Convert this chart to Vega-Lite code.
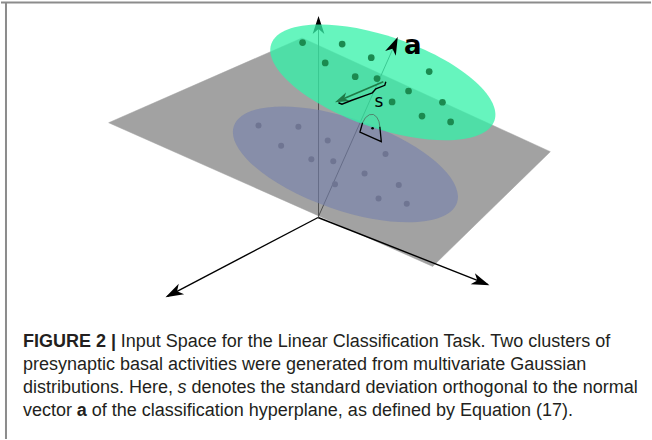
{
  "$schema": "https://vega.github.io/schema/vega-lite/v6.json",
  "width": 652,
  "height": 440,
  "padding": 0,
  "autosize": {"type": "fit", "contains": "padding"},
  "background": "white",
  "config": {"view": {"stroke": null}},
  "datasets": {
    "border": [
      {"x": 0, "y": 2.5, "x2": 652, "y2": 2.5},
      {"x": 5, "y": 2, "x2": 5, "y2": 440}
    ],
    "plane": [
      {"i": 0, "x": 108, "y": 123},
      {"i": 1, "x": 302, "y": 38},
      {"i": 2, "x": 551, "y": 152},
      {"i": 3, "x": 433, "y": 267},
      {"i": 4, "x": 108, "y": 123}
    ],
    "axes": [
      {"x": 318, "y": 218, "x2": 167, "y2": 297},
      {"x": 318, "y": 218, "x2": 488, "y2": 285}
    ],
    "thin": [
      {"x": 318.5, "y": 218, "x2": 318.5, "y2": 20},
      {"x": 318, "y": 218, "x2": 397, "y2": 40}
    ],
    "headUp": [{"x": 318.5, "y": 16, "dir": 0}],
    "heads": [
      {"x": 165, "y": 298, "dir": 242.4},
      {"x": 490, "y": 286, "dir": 111.6},
      {"x": 398, "y": 37, "dir": 24}
    ],
    "headS": [{"x": 335, "y": 102.5, "dir": 246.7}],
    "blueEllipse": [{"x": 345.5, "y": 164.7}],
    "greenEllipse": [{"x": 383, "y": 82.5}],
    "blueDots": [
      {"x": 258.3, "y": 125.7}, {"x": 298.3, "y": 127}, {"x": 281, "y": 146},
      {"x": 327.7, "y": 140.7}, {"x": 311.3, "y": 159.7}, {"x": 333.3, "y": 161.7},
      {"x": 385.7, "y": 154.3}, {"x": 364.7, "y": 174}, {"x": 335, "y": 184.7},
      {"x": 399, "y": 185.3}, {"x": 378.7, "y": 199}, {"x": 407, "y": 204.3}
    ],
    "greenDots": [
      {"x": 302.5, "y": 42.7}, {"x": 342.2, "y": 44.2}, {"x": 371.4, "y": 57.8},
      {"x": 325.2, "y": 63.1}, {"x": 429.5, "y": 71.7}, {"x": 355.3, "y": 76.8},
      {"x": 377.2, "y": 78.7}, {"x": 408.8, "y": 91.2}, {"x": 392.3, "y": 102.2},
      {"x": 442.8, "y": 102.5}, {"x": 422.3, "y": 116.3}, {"x": 451, "y": 122.2}
    ],
    "sLine": [{"x": 383.5, "y": 82, "x2": 340, "y2": 100.5}],
    "brace": [
      {"i": 0, "x": 386, "y": 82}, {"i": 1, "x": 385, "y": 85.5},
      {"i": 2, "x": 376, "y": 89}, {"i": 3, "x": 372.5, "y": 93},
      {"i": 4, "x": 367, "y": 95}, {"i": 5, "x": 352, "y": 100.5},
      {"i": 6, "x": 342, "y": 104.5}, {"i": 7, "x": 338.5, "y": 103}
    ],
    "angleBox": [
      {"i": 0, "x": 380, "y": 127}, {"i": 1, "x": 381.5, "y": 142},
      {"i": 2, "x": 360, "y": 132.5}, {"i": 3, "x": 362.7, "y": 123}
    ],
    "angleArc": [
      {"i": 0, "x": 362.7, "y": 123}, {"i": 1, "x": 365.5, "y": 118},
      {"i": 2, "x": 369.5, "y": 115}, {"i": 3, "x": 373.5, "y": 114.7},
      {"i": 4, "x": 377, "y": 117.5}, {"i": 5, "x": 379.2, "y": 122},
      {"i": 6, "x": 380, "y": 127}
    ],
    "angleDot": [{"x": 372.7, "y": 128.5}],
    "labelA": [{"x": 413, "y": 54.5, "text": "a"}],
    "labelS": [{"x": 379, "y": 107.7, "text": "s"}],
    "capRegular": [
      {"x": 120, "y": 343, "text": "Input Space for the Linear Classification Task. Two clusters of"},
      {"x": 22, "y": 366, "text": "presynaptic basal activities were generated from multivariate Gaussian"},
      {"x": 22, "y": 389, "text": "distributions. Here,"},
      {"x": 191, "y": 389, "text": "denotes the standard deviation orthogonal to the normal"},
      {"x": 22, "y": 412, "text": "vector"},
      {"x": 91, "y": 412, "text": "of the classification hyperplane, as defined by Equation (17)."}
    ],
    "capBold": [
      {"x": 22, "y": 343, "text": "FIGURE 2 |"},
      {"x": 76, "y": 412, "text": "a"}
    ],
    "capItalic": [{"x": 177, "y": 389, "text": "s"}]
  },
  "encoding": {
    "x": {"field": "x", "type": "quantitative", "scale": {"domain": [0, 652], "nice": false, "zero": false}, "axis": null},
    "y": {"field": "y", "type": "quantitative", "scale": {"domain": [0, 440], "nice": false, "zero": false, "reverse": true}, "axis": null}
  },
  "layer": [
    {"data": {"name": "border"}, "mark": {"type": "rule", "stroke": "#8c8c8c", "strokeWidth": 2}, "encoding": {"x2": {"field": "x2"}, "y2": {"field": "y2"}}},
    {"data": {"name": "plane"}, "mark": {"type": "line", "filled": true, "fill": "#a2a2a2", "stroke": "#a2a2a2", "strokeWidth": 0.5}, "encoding": {"order": {"field": "i", "type": "quantitative"}}},
    {"data": {"name": "axes"}, "mark": {"type": "rule", "stroke": "#000000", "strokeWidth": 1.4}, "encoding": {"x2": {"field": "x2"}, "y2": {"field": "y2"}}},
    {"data": {"name": "thin"}, "mark": {"type": "rule", "stroke": "#505050", "strokeWidth": 1}, "encoding": {"x2": {"field": "x2"}, "y2": {"field": "y2"}}},
    {"data": {"name": "headUp"}, "mark": {"type": "point", "shape": "M0,0 L0.65,2 L0,1.45 L-0.65,2 Z", "size": 324, "filled": true, "fill": "#000000", "strokeWidth": 0, "opacity": 1}, "encoding": {"angle": {"field": "dir", "type": "quantitative", "scale": null}}},
    {"data": {"name": "blueEllipse"}, "mark": {"type": "point", "shape": "M -1 0 C -1 -0.214 -0.5523 -0.389 0 -0.389 C 0.5523 -0.389 1 -0.214 1 0 C 1 0.214 0.5523 0.389 0 0.389 C -0.5523 0.389 -1 0.214 -1 0 Z", "size": 55696, "angle": 19, "filled": true, "fill": "#7480ad", "strokeWidth": 0, "opacity": 0.6}},
    {"data": {"name": "blueDots"}, "mark": {"type": "point", "shape": "circle", "size": 36, "filled": true, "fill": "#6f7592", "strokeWidth": 0, "opacity": 1}},
    {"data": {"name": "greenEllipse"}, "mark": {"type": "point", "shape": "M -1 0 C -1 -0.214 -0.5523 -0.389 0 -0.389 C 0.5523 -0.389 1 -0.214 1 0 C 1 0.214 0.5523 0.389 0 0.389 C -0.5523 0.389 -1 0.214 -1 0 Z", "size": 55696, "angle": 19, "filled": true, "fill": "#33f1a8", "strokeWidth": 0, "opacity": 0.75}},
    {"data": {"name": "greenDots"}, "mark": {"type": "point", "shape": "circle", "size": 45, "filled": true, "fill": "#1b8a50", "strokeWidth": 0, "opacity": 1}},
    {"data": {"name": "heads"}, "mark": {"type": "point", "shape": "M0,0 L0.65,2 L0,1.45 L-0.65,2 Z", "size": 324, "filled": true, "fill": "#000000", "strokeWidth": 0, "opacity": 1}, "encoding": {"angle": {"field": "dir", "type": "quantitative", "scale": null}}},
    {"data": {"name": "sLine"}, "mark": {"type": "rule", "stroke": "#1f7a47", "strokeWidth": 1.6}, "encoding": {"x2": {"field": "x2"}, "y2": {"field": "y2"}}},
    {"data": {"name": "headS"}, "mark": {"type": "point", "shape": "M0,0 L0.65,2 L0,1.45 L-0.65,2 Z", "size": 196, "filled": true, "fill": "#1f7a47", "strokeWidth": 0, "opacity": 1}, "encoding": {"angle": {"field": "dir", "type": "quantitative", "scale": null}}},
    {"data": {"name": "brace"}, "mark": {"type": "line", "stroke": "#000000", "strokeWidth": 1.4}, "encoding": {"order": {"field": "i", "type": "quantitative"}}},
    {"data": {"name": "angleArc"}, "mark": {"type": "line", "stroke": "#4f6f60", "strokeWidth": 0.8}, "encoding": {"order": {"field": "i", "type": "quantitative"}}},
    {"data": {"name": "angleBox"}, "mark": {"type": "line", "stroke": "#000000", "strokeWidth": 1.3}, "encoding": {"order": {"field": "i", "type": "quantitative"}}},
    {"data": {"name": "angleDot"}, "mark": {"type": "point", "shape": "circle", "size": 7, "filled": true, "fill": "#000000", "strokeWidth": 0, "opacity": 1}},
    {"data": {"name": "labelA"}, "mark": {"type": "text", "font": "DejaVu Sans", "fontWeight": "bold", "fontSize": 26, "align": "center", "baseline": "alphabetic", "color": "#000000"}, "encoding": {"text": {"field": "text", "type": "nominal"}}},
    {"data": {"name": "labelS"}, "mark": {"type": "text", "font": "DejaVu Sans", "fontSize": 17, "align": "center", "baseline": "alphabetic", "color": "#000000"}, "encoding": {"text": {"field": "text", "type": "nominal"}}},
    {"data": {"name": "capRegular"}, "mark": {"type": "text", "font": "Liberation Sans", "fontSize": 18, "align": "left", "baseline": "middle", "color": "#231f20"}, "encoding": {"text": {"field": "text", "type": "nominal"}}},
    {"data": {"name": "capBold"}, "mark": {"type": "text", "font": "Liberation Sans", "fontWeight": "bold", "fontSize": 18, "align": "left", "baseline": "middle", "color": "#231f20"}, "encoding": {"text": {"field": "text", "type": "nominal"}}},
    {"data": {"name": "capItalic"}, "mark": {"type": "text", "font": "Liberation Sans", "fontStyle": "italic", "fontSize": 18, "align": "left", "baseline": "middle", "color": "#231f20"}, "encoding": {"text": {"field": "text", "type": "nominal"}}}
  ]
}
